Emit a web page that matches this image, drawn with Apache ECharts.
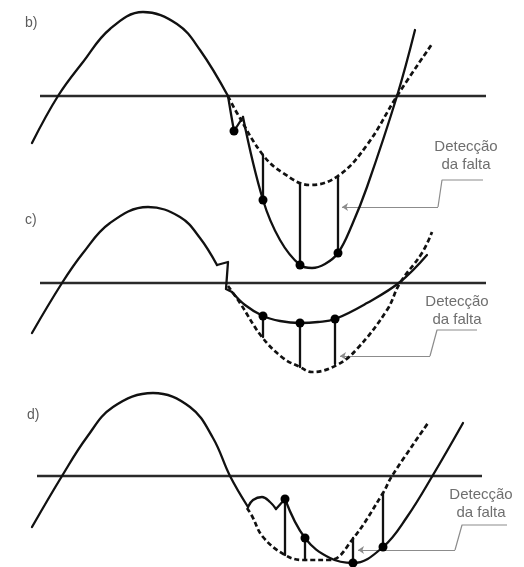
<!DOCTYPE html>
<html>
<head>
<meta charset="utf-8">
<script src="https://cdn.jsdelivr.net/npm/echarts@6/dist/echarts.min.js"></script>
<style>
  html, body { margin: 0; padding: 0; background: #fff; }
  #chart { width: 524px; height: 567px; }
</style>
</head>
<body>
<div id="chart"></div>
<script>
// Waveforms before and after a fault, three cases (b, c, d).
// x = time (arbitrary units), y = signal level (0 = reference axis).

// ---- panel b ----
const axisB   = [[40, 0], [486, 0]];
const sineB   = [[32, -47], [58, 0], [83, 34], [110, 67], [143, 84], [177, 72], [200, 46], [228, 0]];
const jumpB   = [[228, 0], [231, -18], [234, -35], [243, -21]];
const faultB  = [[243, -21], [263, -104], [280, -144], [300, -169], [312, -172], [325, -168], [338, -157], [352, -129], [367, -91], [397, 0], [415, 66]];
const dashB   = [[228, 0], [237, -17], [263, -59], [283, -77], [310, -89], [338, -80], [367, -49], [397, 0], [432, 52]];
const dotsB   = [[234, -35], [263, -104], [300, -169], [338, -157]];
const stemsB  = [[263, -104, -59], [300, -169, -88], [338, -157, -80]];
const leaderB = [[483, -84], [442, -84], [438, -111]];
const arrowB  = [[438, -111], [342, -111]];
const noteB   = [466, -60];
const tagB    = [25, 73];

// ---- panel c ----
const axisC   = [[40, 0], [486, 0]];
const sineC   = [[32, -50], [62, 0], [83, 30], [110, 60], [148, 76], [180, 66], [200, 45], [217, 18]];
const jumpC   = [[217, 18], [228, 21], [226, -6], [232, -9]];
const faultC  = [[232, -9], [245, -22], [263, -33], [280, -38], [300, -40], [318, -39], [335, -36], [367, -20], [400, 1], [427, 28]];
const dashC   = [[228, -3], [240, -20], [262, -54], [283, -75], [300, -84], [312, -89], [337, -82], [357, -66], [387, -27], [400, 0], [422, 30], [432, 51]];
const dotsC   = [[263, -33], [300, -40], [335, -36]];
const stemsC  = [[263, -33, -54], [300, -40, -84], [335, -36, -81]];
const leaderC = [[477, -47], [437, -47], [430, -73]];
const arrowC  = [[430, -73], [340, -73]];
const noteC   = [457, -28];
const tagC    = [25, 63];

// ---- panel d ----
const axisD   = [[37, 0], [482, 0]];
const sineD   = [[32, -51], [62, 0], [87, 39], [113, 69], [153, 83], [190, 69], [213, 38], [230, 0], [248, -31]];
const wiggleD = [[248, -31], [253, -24], [262, -21], [270, -26], [276, -33]];
const jumpD   = [[276, -33], [285, -23]];
const faultD  = [[285, -23], [305, -62], [330, -82], [353, -87], [383, -71], [407, -41], [433, 1], [463, 53]];
const dashD   = [[247, -32], [252, -40], [263, -61], [285, -79], [303, -84], [330, -84], [352, -64], [383, -17], [392, 0], [428, 53]];
const dotsD   = [[285, -23], [305, -62], [353, -87], [383, -71]];
const stemsD  = [[285, -23, -79], [305, -62, -84], [353, -87, -62], [383, -71, -17]];
const leaderD = [[507, -49], [462, -49], [455, -74]];
const arrowD  = [[455, -74], [358, -74]];
const noteD   = [481, -28];
const tagD    = [27, 61];

const noteLines = ['Detecção', 'da falta'];
const tags = ['b)', 'c)', 'd)'];

// ---- styling ----
const INK = '#111';
const GREY = '#8c8c8c';
const TEXT = '#4a4a4a';

// each panel gets its own grid; the y range sets where its reference axis sits
const frames = [
  { top: 0,   height: 276, min: -180, max: 96 },
  { top: 193, height: 190, min: -100, max: 90 },
  { top: 386, height: 181, min: -91,  max: 90 }
];

function line(gi, data, extra) {
  return Object.assign({
    type: 'line', xAxisIndex: gi, yAxisIndex: gi, data: data,
    symbol: 'none', silent: true, clip: false, z: 3,
    lineStyle: { color: INK, width: 2.3, cap: 'round', join: 'round' }
  }, extra || {});
}

function panelSeries(gi, p) {
  const s = [];
  s.push(line(gi, p.axis, { lineStyle: { color: '#2a2a2a', width: 2.6 } }));
  s.push(line(gi, p.sine, { smooth: 0.4 }));
  p.straight.forEach(seg => s.push(line(gi, seg)));
  p.curved.forEach(seg => s.push(line(gi, seg, { smooth: 0.4 })));
  s.push(line(gi, p.dash, {
    smooth: 0.4,
    lineStyle: { color: INK, width: 2.7, type: [5, 3] }
  }));
  p.stems.forEach(st => s.push(line(gi, [[st[0], st[1]], [st[0], st[2]]])));
  s.push({
    type: 'scatter', xAxisIndex: gi, yAxisIndex: gi, data: p.dots,
    symbol: 'circle', symbolSize: 9, silent: true, z: 4,
    itemStyle: { color: '#000', opacity: 1 }
  });
  s.push(line(gi, p.leader, { lineStyle: { color: GREY, width: 1.2 }, z: 2 }));
  s.push({
    type: 'lines', coordinateSystem: 'cartesian2d', xAxisIndex: gi, yAxisIndex: gi,
    data: [{ coords: p.arrow }], symbol: ['none', 'arrow'], symbolSize: 6,
    silent: true, z: 2, lineStyle: { color: GREY, width: 1.2, opacity: 1 }
  });
  s.push({
    type: 'scatter', xAxisIndex: gi, yAxisIndex: gi, data: [p.note],
    symbolSize: 1, silent: true, itemStyle: { color: 'rgba(0,0,0,0)' },
    label: {
      show: true, position: 'inside', formatter: noteLines.join('\n'),
      color: TEXT, fontSize: 15, lineHeight: 18, align: 'center', verticalAlign: 'middle',
      fontFamily: 'Liberation Sans, Arial, sans-serif'
    }
  });
  s.push({
    type: 'scatter', xAxisIndex: gi, yAxisIndex: gi, data: [p.tag],
    symbolSize: 1, silent: true, itemStyle: { color: 'rgba(0,0,0,0)' },
    label: {
      show: true, position: 'inside', formatter: tags[gi],
      color: '#333', fontSize: 14, align: 'left', verticalAlign: 'middle',
      fontFamily: 'Liberation Sans, Arial, sans-serif'
    }
  });
  return s;
}

const panels = [
  { axis: axisB, sine: sineB, straight: [jumpB], curved: [faultB], dash: dashB, dots: dotsB,
    stems: stemsB, leader: leaderB, arrow: arrowB, note: noteB, tag: tagB },
  { axis: axisC, sine: sineC, straight: [jumpC], curved: [faultC], dash: dashC, dots: dotsC,
    stems: stemsC, leader: leaderC, arrow: arrowC, note: noteC, tag: tagC },
  { axis: axisD, sine: sineD, straight: [jumpD], curved: [wiggleD, faultD], dash: dashD, dots: dotsD,
    stems: stemsD, leader: leaderD, arrow: arrowD, note: noteD, tag: tagD }
];

const hidden = { show: false };
const option = {
  animation: false,
  backgroundColor: '#fff',
  grid: frames.map(f => ({ left: 0, width: 524, top: f.top, height: f.height })),
  xAxis: frames.map((f, i) => ({
    type: 'value', gridIndex: i, min: 0, max: 524,
    axisLine: hidden, axisTick: hidden, axisLabel: hidden, splitLine: hidden
  })),
  yAxis: frames.map((f, i) => ({
    type: 'value', gridIndex: i, min: f.min, max: f.max,
    axisLine: hidden, axisTick: hidden, axisLabel: hidden, splitLine: hidden
  })),
  series: panels.flatMap((p, i) => panelSeries(i, p))
};

const chart = echarts.init(document.getElementById('chart'), null, { renderer: 'canvas' });
chart.setOption(option);
</script>
</body>
</html>
